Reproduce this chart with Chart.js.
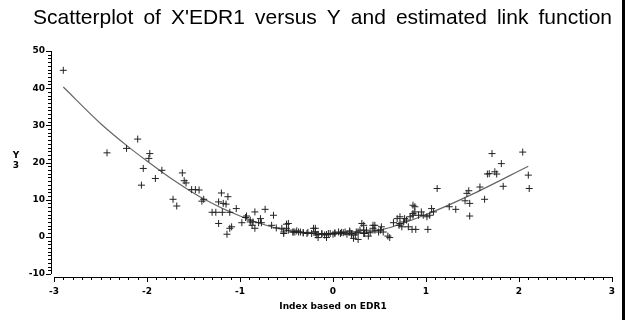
<!DOCTYPE html>
<html lang="en">
<head>
    <meta charset="UTF-8">
    <title>Scatterplot of X'EDR1 versus Y</title>
    <script src="https://cdn.jsdelivr.net/npm/chart.js"></script>
    <style>
        html, body { margin: 0; padding: 0; background: #fff; }
        #wrap { width: 628px; height: 320px; position: relative; }
    </style>
</head>
<body>
<div id="wrap"><canvas id="plot"></canvas></div>
<script>
    // observed index values and responses
    const indexX = [
        -2.90, -2.43, -2.22, -2.10, -1.97, -1.98, -2.04, -2.06, -1.91, -1.84,
        -1.62, -1.60, -1.58, -1.52, -1.48, -1.44, -1.72, -1.68, -1.41, -1.39,
        -1.20, -1.13, -1.23, -1.18, -1.15, -1.30, -1.26, -1.19, -1.11, -1.04,
        -1.23, -1.09, -1.11, -1.14, -0.98, -0.94, -0.89, -0.93, -0.84, -0.89,
        -0.86, -0.87, -0.78, -0.73, -0.80, -0.84, -0.77, -0.64, -0.66, -0.61,
        -0.50, -0.48, -0.53, -0.43, -0.41, -0.39, -0.35, -0.32, -0.28, -0.23,
        -0.19, -0.19, -0.18, -0.16, -0.12, -0.09, -0.05, -0.07,
        0.00, 0.02, 0.08, 0.11, 0.15, 0.18, 0.20, 0.22, 0.27, 0.25,
        0.29, 0.33, 0.33, 0.36, 0.40, 0.43, 0.45, 0.51, 0.54, 0.52,
        0.59, 0.61, 0.65, 0.69, 0.72, 0.76, 0.71, 0.79, 0.81, 0.86,
        0.88, 0.86, 0.92, 1.71, 2.04, 1.81, 1.66, 1.68, 1.74, 1.76,
        1.83, 2.10, 2.11, 1.58, 1.63, 1.46, 1.44, 1.12, 1.47, 1.42,
        1.47, 1.32, 1.25, 1.06, 1.08, 1.04, 1.01, 0.97, 0.95, 0.88,
        0.86, 0.83, 0.77, 0.72, 0.74, 0.89, 0.85, 1.02,
        -0.48, -0.50, -0.55, -0.53, -0.43, -0.37, -0.32, -0.27, -0.21, -0.19,
        -0.16, -0.12, -0.07, -0.03, 0.02, 0.06, 0.09, 0.13, 0.18, 0.20,
        0.24, 0.27, 0.31, 0.33, 0.34, 0.38, 0.43, 0.45, 0.49
    ];
    const responseY = [
        44.8, 22.6, 23.8, 26.3, 22.4, 21.1, 18.4, 13.9, 15.7, 17.9,
        17.2, 15.1, 14.5, 12.7, 12.7, 12.6, 10.1, 8.3, 9.6, 10.1,
        11.8, 10.8, 9.4, 9.0, 8.8, 6.6, 6.6, 6.6, 6.6, 7.6,
        3.6, 2.7, 2.3, 0.7, 3.8, 5.2, 4.0, 5.6, 6.7, 4.5,
        4.0, 3.1, 4.9, 7.4, 3.8, 2.3, 3.8, 5.8, 3.1, 2.4,
        3.4, 1.8, 0.9, 1.3, 1.3, 1.6, 1.3, 1.1, 0.9, 0.9,
        1.3, 2.3, 0.5, -0.2, 0.7, 0.5, 0.9, -0.2,
        0.7, 1.1, 0.9, 1.1, 0.7, 1.3, 0.5, -0.4, -0.7, 1.3,
        1.8, 3.1, 0.9, 1.8, 1.1, 2.3, 3.1, 1.8, 1.3, 2.7,
        0.2, -0.2, 3.8, 4.9, 5.4, 4.0, 3.1, 4.5, 2.7, 8.5,
        6.7, 5.8, 5.8, 22.4, 22.8, 19.7, 16.9, 17.0, 17.5, 16.9,
        13.6, 16.6, 13.0, 13.4, 10.1, 12.4, 11.7, 13.0, 9.0, 9.7,
        5.6, 7.4, 8.1, 7.6, 6.7, 5.8, 5.4, 5.8, 6.7, 8.1,
        6.3, 5.4, 4.9, 3.6, 2.7, 2.0, 2.0, 2.0,
        3.6, 2.3, 2.3, 1.3, 1.3, 1.3, 1.1, 1.2, 2.3, 1.3,
        0.7, 0.9, 0.6, 0.9, 0.9, 1.3, 1.2, 1.3, 1.6, 0.9,
        0.5, 1.3, 3.6, 1.8, 0.9, 0.2, 3.1, 1.8, 1.3
    ];

    // estimated link function
    const linkX = [-2.9, -2.5, -2.2, -2.0, -1.7, -1.4, -1.0, -0.5, 0.0, 0.5, 1.0, 1.5, 2.1];
    const linkY = [40.3, 30.5, 24.2, 20.4, 15.0, 10.3, 5.6, 1.7, 0.8, 1.8, 6.0, 11.5, 19.0];

    const xTicks = [-3, -2, -1, 0, 1, 2, 3];
    const yTicks = [-10, 0, 10, 20, 30, 40, 50];

    const titleText = "Scatterplot of X'EDR1 versus Y and estimated link function";
    const tickFont = { family: "DejaVu Sans", size: 9, weight: "bold" };

    // title set word by word across the full width
    const titlePlugin = {
        id: "wideTitle",
        afterDraw(chart) {
            const ctx = chart.ctx;
            const words = titleText.split(" ");
            const left = 33, right = 612;
            ctx.save();
            ctx.font = "21px 'Liberation Sans'";
            ctx.fillStyle = "#000";
            ctx.textAlign = "left";
            ctx.textBaseline = "middle";
            const widths = words.map(w => ctx.measureText(w).width);
            const total = widths.reduce((s, w) => s + w, 0);
            const gap = (right - left - total) / (words.length - 1);
            let x = left;
            words.forEach((w, i) => {
                ctx.fillText(w, x, 18);
                x += widths[i] + gap;
            });
            ctx.restore();
        }
    };

    // SAS style axes: detached axis lines with minor ticks
    const axesPlugin = {
        id: "sasAxes",
        afterDraw(chart) {
            const ctx = chart.ctx;
            const xs = chart.scales.x, ys = chart.scales.y;
            const a = chart.chartArea;
            const yLine = a.left - 3, xLine = a.bottom + 3;
            ctx.save();
            ctx.strokeStyle = "#000";
            ctx.lineWidth = 1;
            ctx.beginPath();
            ctx.moveTo(yLine + 0.5, a.top);
            ctx.lineTo(yLine + 0.5, a.bottom);
            ctx.moveTo(a.left, xLine + 0.5);
            ctx.lineTo(a.right, xLine + 0.5);
            for (let i = -10; i <= 50; i++) {
                const py = Math.round(ys.getPixelForValue(i)) + 0.5;
                const len = i % 10 === 0 ? 5 : 3;
                ctx.moveTo(yLine, py);
                ctx.lineTo(yLine - len, py);
            }
            for (let i = -30; i <= 30; i++) {
                const px = Math.round(xs.getPixelForValue(i / 10)) + 0.5;
                const len = i % 10 === 0 ? 5 : 3;
                ctx.moveTo(px, xLine);
                ctx.lineTo(px, xLine + len);
            }
            ctx.stroke();

            // stacked y label
            ctx.fillStyle = "#000";
            ctx.font = "bold 9px 'DejaVu Sans'";
            ctx.textAlign = "center";
            ctx.textBaseline = "middle";
            ctx.fillText("Y", 16, 156);
            ctx.fillText("3", 16, 166);

            // frame edge on the right
            ctx.fillRect(622, 0, 3, 320);
            ctx.restore();
        }
    };

    const ctx = document.getElementById("plot").getContext("2d");
    new Chart(ctx, {
        type: "scatter",
        data: {
            datasets: [
                {
                    label: "Y",
                    data: indexX.map((x, i) => ({ x: x, y: responseY[i] })),
                    pointStyle: "cross",
                    pointRadius: 3.5,
                    pointBorderWidth: 1,
                    pointBorderColor: "#222",
                    backgroundColor: "#222"
                },
                {
                    label: "link",
                    type: "line",
                    data: linkX.map((x, i) => ({ x: x, y: linkY[i] })),
                    borderColor: "#666",
                    borderWidth: 1.2,
                    pointRadius: 0,
                    tension: 0.4,
                    cubicInterpolationMode: "monotone",
                    fill: false
                }
            ]
        },
        options: {
            responsive: true,
            maintainAspectRatio: false,
            animation: false,
            layout: { padding: { left: 0, right: 16, top: 51, bottom: 0 } },
            plugins: {
                legend: { display: false },
                tooltip: { enabled: false },
                title: { display: false }
            },
            scales: {
                x: {
                    type: "linear",
                    min: -3,
                    max: 3,
                    afterFit(scale) { scale.height = 46; },
                    afterBuildTicks(scale) { scale.ticks = xTicks.map(v => ({ value: v })); },
                    grid: { display: false, drawTicks: false },
                    border: { display: false },
                    ticks: { color: "#000", font: tickFont, padding: 12 },
                    title: {
                        display: true,
                        text: "Index based on EDR1",
                        color: "#000",
                        font: tickFont,
                        padding: { top: 0, bottom: 8 }
                    }
                },
                y: {
                    type: "linear",
                    min: -10,
                    max: 50,
                    afterFit(scale) { scale.width = 54; },
                    afterBuildTicks(scale) { scale.ticks = yTicks.map(v => ({ value: v })); },
                    grid: { display: false, drawTicks: false },
                    border: { display: false },
                    ticks: { color: "#000", font: tickFont, padding: 9 }
                }
            }
        },
        plugins: [axesPlugin, titlePlugin]
    });
</script>
</body>
</html>
